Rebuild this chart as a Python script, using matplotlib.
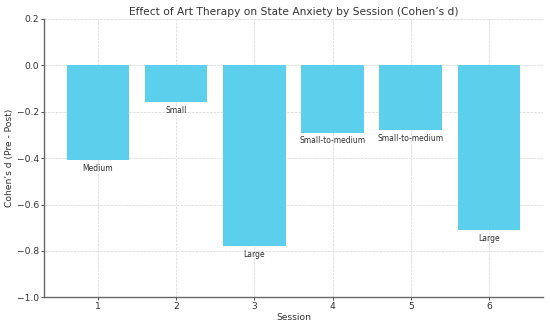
import matplotlib
matplotlib.use("Agg")
import matplotlib.pyplot as plt

sessions = [1, 2, 3, 4, 5, 6]
cohens_d = [-0.41, -0.16, -0.78, -0.29, -0.28, -0.71]
effect_labels = ["Medium", "Small", "Large", "Small-to-medium", "Small-to-medium", "Large"]

fig = plt.figure(figsize=(5.5, 3.26), dpi=100)
ax = fig.add_axes([0.08, 0.088, 0.907, 0.854])

ax.bar(sessions, cohens_d, width=0.8, color="#5BCFEB", zorder=2)
for x, v, lab in zip(sessions, cohens_d, effect_labels):
    ax.text(x, v - 0.015, lab, ha="center", va="top", fontsize=5.5, color="#333333", zorder=3)

ax.set_ylim(-1.0, 0.2)
ax.set_yticks([-1.0, -0.8, -0.6, -0.4, -0.2, 0.0, 0.2])
ax.set_xticks(sessions)
ax.grid(True, linestyle="--", linewidth=0.5, color="#d5d5d5", zorder=0)
ax.set_axisbelow(True)
for s in ["top", "right"]:
    ax.spines[s].set_visible(False)
for s in ["left", "bottom"]:
    ax.spines[s].set_color("#666666")
    ax.spines[s].set_linewidth(1.0)
ax.tick_params(labelsize=6.6, colors="#333333", length=2, pad=1.5, width=0.6)
ax.set_xlabel("Session", fontsize=6.6, color="#333333", labelpad=1.5)
ax.set_ylabel("Cohen’s d (Pre - Post)", fontsize=6.6, color="#333333", labelpad=2)
ax.set_title("Effect of Art Therapy on State Anxiety by Session (Cohen’s d)", fontsize=7.7, color="#333333", pad=3)

fig.savefig("out.png", dpi=100)
